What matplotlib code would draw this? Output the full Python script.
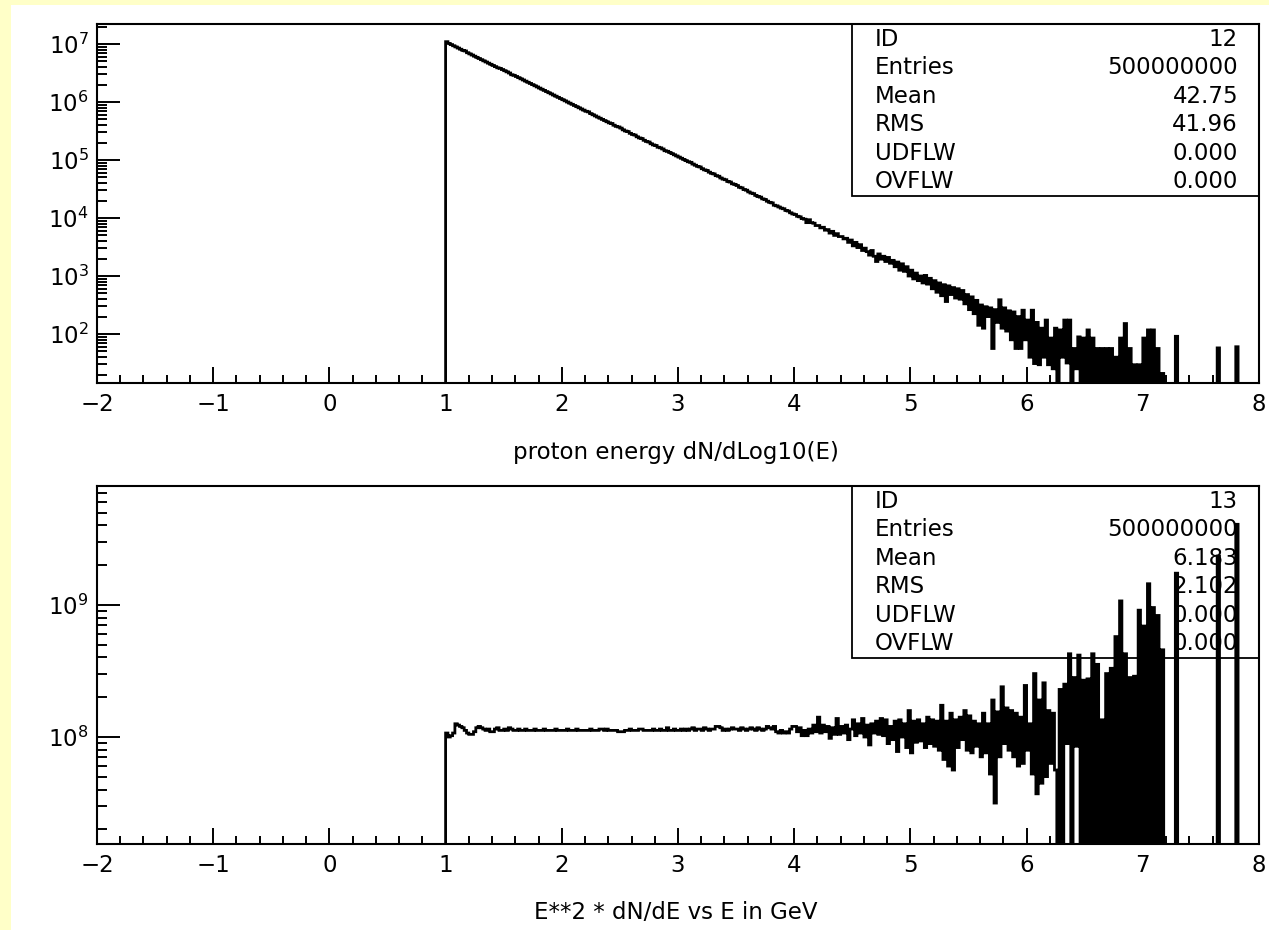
import numpy as np
import matplotlib
matplotlib.use("Agg")
import matplotlib.pyplot as plt
from matplotlib.patches import Rectangle
from matplotlib.ticker import (LogLocator, MultipleLocator,
                               LogFormatterSciNotation, NullFormatter)

plt.rcParams['font.family'] = ['DejaVu Sans']
FS = 16.5

# Histogram binning of the filled range (0.02 in log10(E) per bin)
E_LO, E_HI, N_BINS = 1.0, 8.0, 350

# ID 12: proton energy dN/dLog10(E), log10 of bin contents (0 = empty bin)
proton_log10 = [
    7.04, 7.01, 6.99, 6.97, 6.95, 6.93, 6.91, 6.89, 6.88, 6.85, 6.83, 6.81, 6.79, 6.77, 6.75, 6.73, 6.71, 6.69, 6.67, 6.65, 6.63, 6.61, 6.59, 6.58, 6.56,
    6.54, 6.52, 6.50, 6.47, 6.46, 6.44, 6.42, 6.40, 6.38, 6.36, 6.34, 6.32, 6.30, 6.28, 6.26, 6.24, 6.22, 6.20, 6.18, 6.16, 6.14, 6.12, 6.10, 6.08, 6.06,
    6.04, 6.02, 6.00, 5.98, 5.96, 5.94, 5.92, 5.90, 5.88, 5.86, 5.84, 5.83, 5.80, 5.78, 5.76, 5.74, 5.72, 5.70, 5.68, 5.66, 5.64, 5.63, 5.60, 5.58, 5.57,
    5.55, 5.52, 5.50, 5.49, 5.46, 5.44, 5.43, 5.40, 5.38, 5.37, 5.34, 5.32, 5.31, 5.28, 5.26, 5.25, 5.22, 5.21, 5.19, 5.16, 5.15, 5.13, 5.11, 5.09, 5.07,
    5.05, 5.03, 5.01, 4.99, 4.97, 4.96, 4.93, 4.91, 4.89, 4.88, 4.85, 4.83, 4.82, 4.79, 4.77, 4.76, 4.73, 4.72, 4.69, 4.67, 4.66, 4.63, 4.62, 4.59, 4.58,
    4.56, 4.53, 4.52, 4.49, 4.48, 4.45, 4.43, 4.42, 4.39, 4.37, 4.36, 4.33, 4.32, 4.29, 4.27, 4.26, 4.22, 4.21, 4.19, 4.17, 4.16, 4.13, 4.12, 4.09, 4.07,
    4.06, 4.03, 4.02, 3.99, 3.98, 3.92, 3.97, 3.92, 3.91, 3.87, 3.87, 3.83, 3.84, 3.79, 3.80, 3.74, 3.77, 3.70, 3.73, 3.68, 3.68, 3.64, 3.65, 3.58, 3.62,
    3.52, 3.58, 3.49, 3.54, 3.44, 3.48, 3.42, 3.36, 3.44, 3.34, 3.25, 3.38, 3.29, 3.34, 3.25, 3.32, 3.22, 3.27, 3.16, 3.24, 3.10, 3.21, 3.08, 3.16, 3.00,
    3.10, 2.95, 3.05, 2.92, 3.00, 2.88, 3.01, 2.86, 2.96, 2.78, 2.92, 2.72, 2.88, 2.66, 2.85, 2.56, 2.83, 2.68, 2.80, 2.62, 2.78, 2.60, 2.75, 2.52, 2.68,
    2.42, 2.64, 2.35, 2.58, 2.15, 2.50, 2.10, 2.47, 2.30, 2.45, 1.75, 2.42, 2.20, 2.59, 2.10, 2.45, 2.05, 2.40, 1.90, 2.38, 1.75, 2.30, 1.75, 2.41, 1.90,
    2.24, 1.60, 2.41, 1.49, 2.20, 1.47, 2.10, 1.60, 2.24, 1.47, 1.93, 1.40, 2.10, 0, 2.07, 1.60, 2.24, 1.50, 2.24, 0, 1.75, 1.40, 1.95, 0, 1.93,
    0, 2.07, 0, 1.93, 0, 1.75, 0, 1.75, 0, 1.75, 0, 1.75, 0, 1.60, 0, 1.93, 0, 2.18, 0, 1.75, 0, 1.47, 0, 1.47, 0,
    1.93, 0, 2.07, 0, 2.07, 0, 1.75, 0, 1.32, 0, 0, 0, 0, 0, 1.96, 0, 0, 0, 0, 0, 0, 0, 0, 0, 0,
    0, 0, 0, 0, 0, 0, 0, 1.76, 0, 0, 0, 0, 0, 0, 0, 1.78, 0, 0, 0, 0, 0, 0, 0, 0, 0,
]

# ID 13: E**2 * dN/dE, log10 of bin contents (0 = empty bin)
e2dnde_log10 = [
    8.03, 8.00, 8.01, 8.03, 8.10, 8.09, 8.08, 8.07, 8.05, 8.03, 8.02, 8.02, 8.04, 8.07, 8.08, 8.07, 8.06, 8.05, 8.06, 8.04, 8.04, 8.06, 8.07, 8.05, 8.05,
    8.06, 8.05, 8.07, 8.06, 8.05, 8.05, 8.06, 8.05, 8.05, 8.06, 8.05, 8.05, 8.05, 8.06, 8.05, 8.05, 8.05, 8.06, 8.05, 8.05, 8.05, 8.05, 8.06, 8.05, 8.05,
    8.05, 8.05, 8.06, 8.05, 8.05, 8.05, 8.06, 8.05, 8.05, 8.05, 8.05, 8.05, 8.06, 8.05, 8.05, 8.05, 8.06, 8.06, 8.05, 8.06, 8.05, 8.05, 8.05, 8.05, 8.04,
    8.04, 8.04, 8.05, 8.05, 8.06, 8.05, 8.05, 8.05, 8.06, 8.06, 8.05, 8.05, 8.05, 8.05, 8.06, 8.05, 8.05, 8.06, 8.05, 8.05, 8.07, 8.05, 8.05, 8.06, 8.05,
    8.05, 8.06, 8.05, 8.06, 8.05, 8.06, 8.07, 8.05, 8.06, 8.06, 8.05, 8.07, 8.06, 8.05, 8.06, 8.06, 8.08, 8.08, 8.07, 8.05, 8.06, 8.05, 8.06, 8.07, 8.06,
    8.06, 8.05, 8.07, 8.06, 8.05, 8.06, 8.07, 8.06, 8.05, 8.07, 8.06, 8.05, 8.06, 8.08, 8.07, 8.06, 8.08, 8.04, 8.03, 8.05, 8.03, 8.04, 8.03, 8.06, 8.08,
    8.08, 8.04, 8.07, 8.01, 8.05, 8.01, 8.06, 8.03, 8.09, 8.04, 8.15, 8.03, 8.09, 8.04, 8.08, 7.99, 8.07, 8.02, 8.14, 8.02, 8.08, 8.03, 8.09, 7.98, 8.06,
    8.13, 8.01, 8.10, 8.03, 8.14, 8.00, 8.09, 7.94, 8.10, 8.03, 8.12, 8.02, 8.14, 8.01, 8.13, 7.95, 8.08, 7.98, 8.12, 7.89, 8.13, 8.00, 8.10, 7.92, 8.20,
    7.88, 8.12, 7.96, 8.13, 7.97, 8.10, 7.92, 8.15, 7.95, 8.13, 7.93, 8.12, 7.90, 8.24, 7.83, 8.12, 7.78, 8.18, 7.75, 8.13, 7.92, 8.15, 7.98, 8.20, 7.90,
    8.16, 7.88, 8.12, 7.93, 8.10, 7.85, 8.18, 7.88, 8.10, 7.72, 8.28, 7.50, 8.19, 7.85, 8.38, 7.95, 8.22, 7.90, 8.20, 7.85, 8.18, 7.78, 8.15, 7.80, 8.39,
    7.90, 8.10, 7.72, 8.48, 7.57, 8.28, 7.65, 8.41, 7.70, 8.20, 7.80, 8.18, 7.75, 0, 8.36, 0, 8.40, 7.95, 8.63, 0, 8.45, 7.93, 8.62, 0, 8.43,
    0, 8.44, 0, 8.63, 0, 8.55, 0, 8.13, 0, 8.48, 0, 8.52, 0, 8.76, 0, 9.03, 0, 8.63, 0, 8.45, 0, 8.46, 0, 8.96, 0,
    8.84, 0, 9.16, 0, 8.98, 0, 8.92, 0, 8.66, 0, 0, 0, 0, 0, 9.24, 0, 0, 0, 0, 0, 0, 0, 0, 0, 0,
    0, 0, 0, 0, 0, 0, 0, 9.37, 0, 0, 0, 0, 0, 0, 0, 9.61, 0, 0, 0, 0, 0, 0, 0, 0, 0,
]

stat_names = ["ID", "Entries", "Mean", "RMS", "UDFLW", "OVFLW"]
stats_12 = ["12", "500000000", "42.75", "41.96", "0.000", "0.000"]
stats_13 = ["13", "500000000", "6.183", "2.102", "0.000", "0.000"]

x_ticks_major = [-2, -1, 0, 1, 2, 3, 4, 5, 6, 7, 8]
title_12 = "proton energy dN/dLog10(E)"
title_13 = "E**2 * dN/dE vs E in GeV"


def contents(log_vals):
    arr = np.asarray(log_vals, dtype=float)
    # empty bins are pushed far below the lower axis limit
    return np.where(arr > 0, 10.0 ** arr, 1.0)


W, H = 1269, 930
fig = plt.figure(figsize=(W / 100, H / 100), dpi=100, facecolor="white")

# pale yellow page margin on the left and top
YEL = "#ffffc8"
fig.add_artist(Rectangle((0, 0), 11 / W, 1, transform=fig.transFigure,
                         facecolor=YEL, edgecolor="none", zorder=0))
fig.add_artist(Rectangle((0, 1 - 5 / H), 1, 5 / H, transform=fig.transFigure,
                         facecolor=YEL, edgecolor="none", zorder=0))

ax_left, ax_right = 97, 1259
panels = [
    dict(top=24, bottom=383, ylim=(10 ** 1.155, 10 ** 7.345),
         data=proton_log10, stats=stats_12, title=title_12, title_y=453),
    dict(top=486, bottom=844, ylim=(10 ** 7.19, 10 ** 9.90),
         data=e2dnde_log10, stats=stats_13, title=title_13, title_y=912),
]

edges = np.linspace(E_LO, E_HI, N_BINS + 1)
LW = 2.0

for p in panels:
    ax = fig.add_axes([ax_left / W, 1 - p["bottom"] / H,
                       (ax_right - ax_left) / W, (p["bottom"] - p["top"]) / H])
    ax.set_facecolor("white")
    ax.set_yscale("log")
    ax.set_xlim(-2, 8)
    ax.set_ylim(*p["ylim"])

    h = ax.stairs(contents(p["data"]), edges, baseline=1.0, color="black",
                  linewidth=LW, zorder=3)
    h.set_snap(False)

    for s in ax.spines.values():
        s.set_linewidth(1.5)

    ax.xaxis.set_major_locator(plt.FixedLocator(x_ticks_major))
    ax.xaxis.set_minor_locator(MultipleLocator(0.2))
    lo_dec = int(np.ceil(np.log10(p["ylim"][0])))
    hi_dec = int(np.floor(np.log10(p["ylim"][1])))
    ax.yaxis.set_major_locator(plt.FixedLocator([10.0 ** d for d in range(lo_dec, hi_dec + 1)]))
    ax.yaxis.set_minor_locator(LogLocator(base=10, subs=np.arange(2, 10), numticks=20))
    ax.yaxis.set_major_formatter(LogFormatterSciNotation())
    ax.yaxis.set_minor_formatter(NullFormatter())

    ax.tick_params(which="both", direction="in", top=False, right=False,
                   labelsize=FS, width=1.4, color="black")
    ax.tick_params(axis="x", which="major", length=11.5, pad=7)
    ax.tick_params(axis="x", which="minor", length=5.5)
    ax.tick_params(axis="y", which="major", length=16.5, pad=6)
    ax.tick_params(axis="y", which="minor", length=7.5)

    # statistics box
    h_px = p["bottom"] - p["top"]
    w_px = ax_right - ax_left
    box_left = (852 - ax_left) / w_px
    box_h = 172 / h_px
    ax.add_patch(Rectangle((box_left, 1 - box_h), 1 - box_left, box_h,
                           transform=ax.transAxes, facecolor="none",
                           edgecolor="black", linewidth=1.3, zorder=2))
    for k, (name, val) in enumerate(zip(stat_names, p["stats"])):
        yy = 1 - (15.5 + 28.4 * k) / h_px
        ax.text((875 - ax_left) / w_px, yy, name, transform=ax.transAxes,
                ha="left", va="center", fontsize=FS, zorder=2)
        ax.text((1238 - ax_left) / w_px, yy, val, transform=ax.transAxes,
                ha="right", va="center", fontsize=FS, zorder=2)

    fig.text(676 / W, 1 - p["title_y"] / H, p["title"], ha="center",
             va="center", fontsize=FS)

fig.savefig("out.png", dpi=100, facecolor=fig.get_facecolor())
